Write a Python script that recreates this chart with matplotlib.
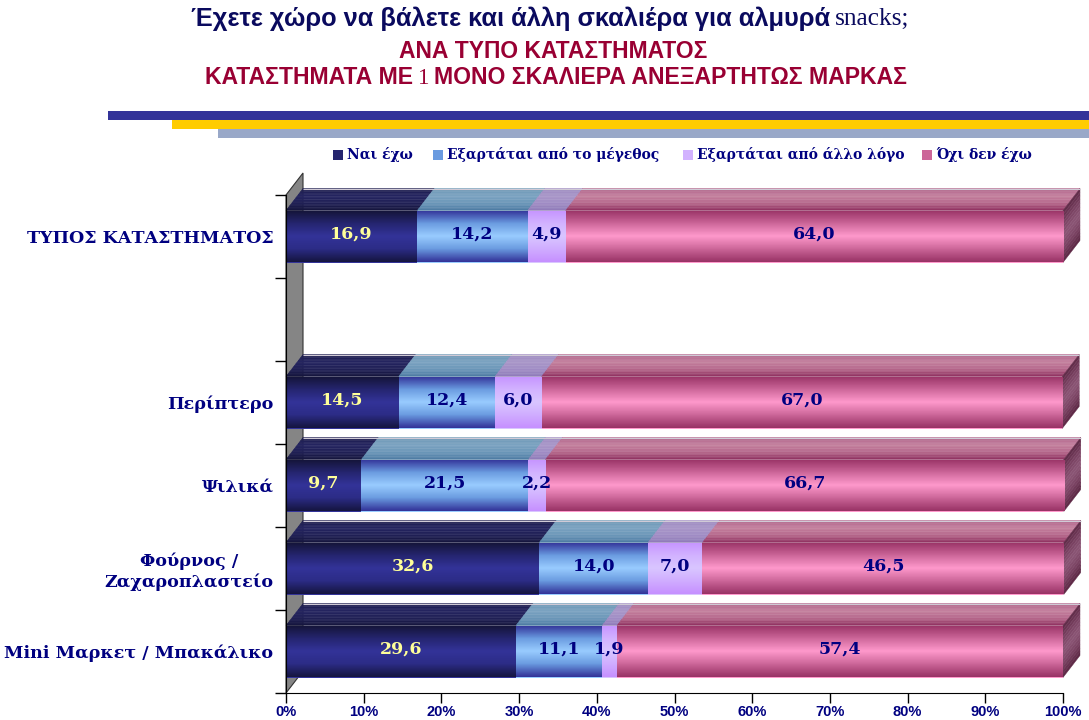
import numpy as np
import matplotlib
matplotlib.use("Agg")
import matplotlib.pyplot as plt
from matplotlib.patches import Polygon, Rectangle
from matplotlib.colors import LinearSegmentedColormap

# ---------------- data ----------------
categories = ["ΤΥΠΟΣ ΚΑΤΑΣΤΗΜΑΤΟΣ", "", "Περίπτερο", "Ψιλικά",
              "Φούρνος /\nΖαχαροπλαστείο", "Mini Μαρκετ / Μπακάλικο"]
series_names = ["Ναι έχω", "Εξαρτάται από το μέγεθος",
                "Εξαρτάται από άλλο λόγο", "Όχι δεν έχω"]
nai_exo = [16.9, None, 14.5, 9.7, 32.6, 29.6]
ejartatai_megethos = [14.2, None, 12.4, 21.5, 14.0, 11.1]
ejartatai_allo = [4.9, None, 6.0, 2.2, 7.0, 1.9]
oxi_den_exo = [64.0, None, 67.0, 66.7, 46.5, 57.4]
xtick_values = [0, 10, 20, 30, 40, 50, 60, 70, 80, 90, 100]
xtick_labels = ["0%", "10%", "20%", "30%", "40%", "50%", "60%", "70%", "80%", "90%", "100%"]

title1a = "Έχετε χώρο να βάλετε και άλλη σκαλιέρα για αλμυρά"
title1b = "snacks;"
title2 = "ΑΝΑ ΤΥΠΟ ΚΑΤΑΣΤΗΜΑΤΟΣ"
title3 = ["ΚΑΤΑΣΤΗΜΑΤΑ ΜΕ", "1", "ΜΟΝΟ ΣΚΑΛΙΕΡΑ ΑΝΕΞΑΡΤΗΤΩΣ ΜΑΡΚΑΣ"]

series = [nai_exo, ejartatai_megethos, ejartatai_allo, oxi_den_exo]

# ---------------- styles ----------------
front_grad = [
    ["#141438", "#25256f", "#333399", "#2c2c86", "#151540"],
    ["#333399", "#6a9be0", "#99ccff", "#6a9be0", "#333399"],
    ["#c694ff", "#d2b2ff", "#d9c6ff", "#d0adff", "#c690ff"],
    ["#993366", "#cc6699", "#ff99cc", "#cc6699", "#993366"],
]
top_grad = [  # from front edge to back edge
    ["#15153c", "#1f1f55", "#242460", "#1c1c4c"],
    ["#4c7aa2", "#6a96b8", "#7aa2c0", "#6e98b6"],
    ["#8f7ab8", "#a08cc4", "#a896c8", "#9e8ac0"],
    ["#8e2f5e", "#b4668a", "#c4809e", "#b0648a"],
]
side_grad = ["#5e2a46", "#7a4262", "#8c5676", "#7a4262", "#5a2642"]
label_colors = ["#ffff99", "#000080", "#000080", "#000080"]
legend_colors = ["#25256f", "#6a9be0", "#d2b2ff", "#cc6699"]

W, H = 1089, 720
fig = plt.figure(figsize=(W / 100, H / 100), dpi=100)
fig.patch.set_facecolor("white")

x0px, x1px = 286, 1063
ytop, ybot = 195, 693
ax = fig.add_axes([x0px / W, 1 - ybot / H, (x1px - x0px) / W, (ybot - ytop) / H])
n = len(categories)
slot_px = (ybot - ytop) / n
dx = 17 / (x1px - x0px) * 100
dy = 22 / slot_px
bh = 52 / slot_px

serif = ["DejaVu Serif"]
navy = "#000080"

# wall
wall = Polygon([(0, n - 0.5), (0, -0.5), (dx, -0.5 - dy), (dx, n - 0.5 - dy)],
               closed=True, facecolor="#858585", edgecolor="#333333", lw=0.8,
               clip_on=False, zorder=0.5)
ax.add_patch(wall)

NS = 14
for i in range(n):
    if series[0][i] is None:
        continue
    left = 0.0
    for j, s in enumerate(series):
        v = s[i]
        r = left + v
        # front face
        bars = ax.barh(i, v, left=left, height=bh, color=front_grad[j][2],
                       edgecolor="none", zorder=2)
        cmap = LinearSegmentedColormap.from_list("g%d" % j, front_grad[j])
        grad = np.linspace(0, 1, 64).reshape(-1, 1)
        im = ax.imshow(grad, cmap=cmap, extent=(left, r, i + bh / 2, i - bh / 2),
                       origin="upper", aspect="auto", zorder=2.1, interpolation="bilinear")
        im.set_clip_path(bars.patches[0])
        # top face
        tc = LinearSegmentedColormap.from_list("t%d" % j, top_grad[j])
        yf = i - bh / 2
        for k in range(NS):
            t0, t1 = k / NS, (k + 1) / NS
            col = tc((k + 0.5) / NS)
            ax.add_patch(Polygon([(left + t0 * dx, yf - t0 * dy), (r + t0 * dx, yf - t0 * dy),
                                  (r + t1 * dx, yf - t1 * dy), (left + t1 * dx, yf - t1 * dy)],
                                 closed=True, facecolor=col, edgecolor=col, lw=0.3,
                                 clip_on=False, zorder=1.5))
        # right side face on last segment
        if j == len(series) - 1:
            sc = LinearSegmentedColormap.from_list("side", side_grad)
            yt = i - bh / 2
            for k in range(NS):
                s0, s1 = k / NS, (k + 1) / NS
                col = sc((k + 0.5) / NS)
                ax.add_patch(Polygon([(r, yt + s0 * bh), (r + dx, yt + s0 * bh - dy),
                                      (r + dx, yt + s1 * bh - dy), (r, yt + s1 * bh)],
                                     closed=True, facecolor=col, edgecolor=col, lw=0.3,
                                     clip_on=False, zorder=1.6))
            # faint highlight along back edge of the top face
            ax.plot([dx, r + dx], [yf - dy, yf - dy], color="#d0cad6", lw=0.8,
                    clip_on=False, zorder=1.7, solid_capstyle="butt")
        # value label
        ax.text(left + v / 2, i - 0.03, f"{v:.1f}".replace(".", ","),
                ha="center", va="center", fontsize=12.5, fontweight="bold",
                family=serif, color=label_colors[j], zorder=5)
        left = r

ax.set_xlim(0, 100)
ax.set_ylim(n - 0.5, -0.5)
for side in ["top", "right"]:
    ax.spines[side].set_visible(False)
ax.spines["left"].set_zorder(3)
ax.spines["bottom"].set_zorder(3)
ax.set_xticks(xtick_values)
ax.set_xticklabels(xtick_labels, fontsize=10.5, fontweight="bold",
                   family=["Liberation Sans"], color=navy)
ax.tick_params(axis="x", length=7, width=1, pad=2)
ax.set_yticks(np.arange(n + 1) - 0.5)
ax.set_yticklabels([])
ax.set_yticks(np.arange(n), minor=True)
ax.set_yticklabels(categories, minor=True, fontsize=12.6, fontweight="bold",
                   family=serif, color=navy, multialignment="center")
ax.tick_params(axis="y", which="major", length=8, width=1)
ax.tick_params(axis="y", which="minor", length=0, pad=9)

# ---------------- titles ----------------
renderer = fig.canvas.get_renderer()


def place_line(y_px, pieces, cx_px, gap_px=5):
    texts = [fig.text(0, 1 - y_px / H, s, va="center", ha="left", **kw) for s, kw in pieces]
    widths = [t.get_window_extent(renderer).width for t in texts]
    total = sum(widths) + gap_px * (len(texts) - 1)
    x = cx_px - total / 2
    for t, w in zip(texts, widths):
        t.set_x(x / W)
        x += w + gap_px


sansN = dict(family=["Liberation Sans Narrow", "Liberation Sans"], fontweight="bold")
place_line(19, [(title1a, dict(fontsize=18.3, color="#0a0a5e", **sansN)),
                (title1b, dict(fontsize=18.3, color="#0a0a5e", family=["Liberation Serif"]))], 550)
place_line(51, [(title2, dict(fontsize=16.5, color="#990033", **sansN))], 553)
place_line(78, [(title3[0], dict(fontsize=16.6, color="#990033", **sansN)),
                (title3[1], dict(fontsize=16.6, color="#990033", family=["Liberation Serif"])),
                (title3[2], dict(fontsize=16.6, color="#990033", **sansN))], 556)

# decorative stripes
for (xs, y0, y1, c) in [(108, 111, 120, "#333399"), (172, 120, 129, "#ffcc00"),
                        (218, 129, 138, "#99a8c8")]:
    fig.patches.append(Rectangle((xs / W, 1 - y1 / H), (W - xs) / W, (y1 - y0) / H,
                                 transform=fig.transFigure, facecolor=c, edgecolor="none"))

# legend
leg_x = [338, 438, 688, 927]
for k, name in enumerate(series_names):
    fig.patches.append(Rectangle(((leg_x[k] - 5) / W, 1 - 160 / H), 10 / W, 10 / H,
                                 transform=fig.transFigure, facecolor=legend_colors[k],
                                 edgecolor="none"))
    fig.text((leg_x[k] + 9) / W, 1 - 155 / H, name, ha="left", va="center",
             fontsize=10, fontweight="bold", family=serif, color=navy)

fig.savefig("out.png", dpi=100)
